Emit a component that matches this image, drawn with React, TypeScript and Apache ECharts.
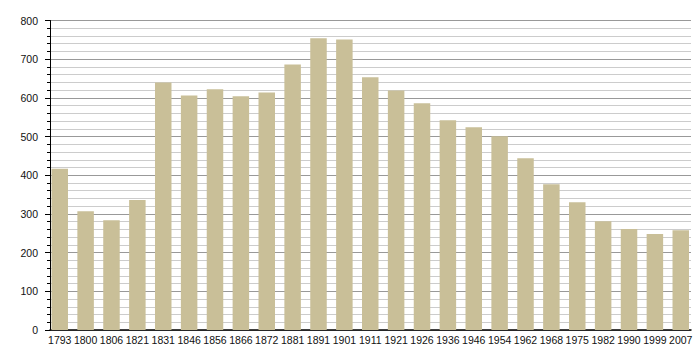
import React, { useEffect, useRef } from "react";
import * as echarts from "echarts";

const years = ["1793","1800","1806","1821","1831","1846","1856","1866","1872","1881","1891","1901","1911","1921","1926","1936","1946","1954","1962","1968","1975","1982","1990","1999","2007"];
const population = [417,307,284,336,640,606,622,604,614,686,754,751,653,619,586,542,524,501,444,377,330,281,261,248,258];
const yTicks = { min: 0, max: 800, interval: 100 };

export default function App() {
  const ref = useRef<HTMLDivElement>(null);
  useEffect(() => {
    document.body.style.margin = "0";
    if (!ref.current) return;
    const chart = echarts.init(ref.current, null, { renderer: "svg" });
    const font = "'Liberation Sans', Arial, sans-serif";
    chart.setOption({
      animation: false,
      backgroundColor: "#ffffff",
      grid: [
        { left: 50, right: 9, top: 20.5, bottom: 30 },
        { left: 46.8, right: 6.3, top: 20.5, bottom: 30 },
      ],
      xAxis: [
        {
          gridIndex: 0, type: "value", min: 0, max: 1,
          axisLine: { show: true, lineStyle: { color: "#000", width: 1.5 } },
          axisTick: { show: false }, axisLabel: { show: false }, splitLine: { show: false },
        },
        {
          gridIndex: 1, type: "category", data: years,
          axisLine: { show: false }, axisTick: { show: false },
          axisLabel: { interval: 0, margin: 4, color: "#111", fontSize: 10.5, fontFamily: font },
        },
      ],
      yAxis: [
        {
          gridIndex: 0, type: "value", min: yTicks.min, max: yTicks.max, interval: yTicks.interval,
          axisLine: { show: true, lineStyle: { color: "#000", width: 1 } },
          axisTick: { show: true, length: 5, lineStyle: { color: "#000" } },
          minorTick: { show: true, splitNumber: 5, length: 3, lineStyle: { color: "#000" } },
          axisLabel: { margin: 12, color: "#111", fontSize: 10.5, fontFamily: font },
          splitLine: { show: true, lineStyle: { color: "#999999", width: 1 } },
          minorSplitLine: { show: true, lineStyle: { color: "#cccccc", width: 1 } },
        },
        {
          gridIndex: 1, type: "value", min: yTicks.min, max: yTicks.max, show: false,
        },
      ],
      series: [
        {
          type: "bar", xAxisIndex: 1, yAxisIndex: 1, data: population,
          barWidth: 16.5,
          itemStyle: { color: "#c9bf98" },
          z: 3,
        },
      ],
    });
    return () => chart.dispose();
  }, []);
  return <div ref={ref} style={{ width: 700, height: 360 }} />;
}
